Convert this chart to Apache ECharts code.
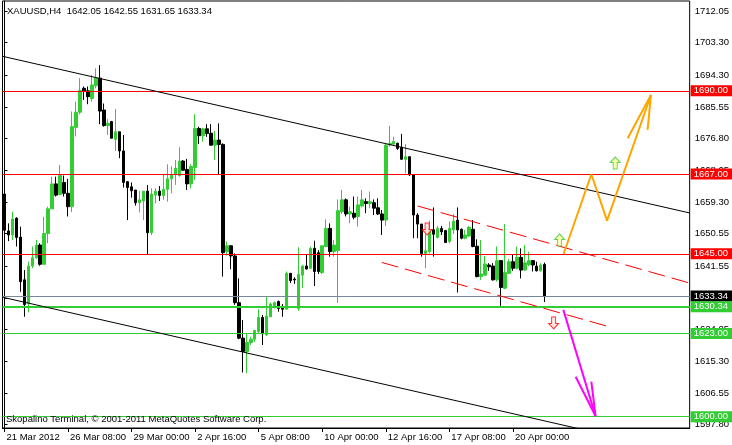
<!DOCTYPE html>
<html><head><meta charset="utf-8">
<script src="https://cdn.jsdelivr.net/npm/echarts@6/dist/echarts.min.js"></script>
<style>html,body{margin:0;padding:0;background:#fff}#c{width:732px;height:445px}</style>
</head><body><div id="c"></div>
<script>
// ---- candle data (bar index 0..136, H4) ----
const opens  = [1661.5,1651.3,1650.2,1654.8,1649.6,1637.8,1631.3,1641.6,1643.9,1647.4,
1642.1,1650.6,1657.4,1664.3,1661.4,1664.7,1661.7,1658.0,1679.9,1684.1,
1690.7,1690.0,1687.9,1691.4,1693.5,1684.7,1680.4,1681.5,1676.6,1678.7,
1673.4,1664.9,1663.5,1662.6,1659.1,1659.6,1662.3,1650.8,1661.2,1662.3,
1661.1,1662.8,1665.7,1666.9,1666.6,1670.6,1668.3,1664.3,1668.8,1679.6,
1677.6,1679.5,1678.3,1675.0,1676.4,1675.2,1645.6,1647.2,1644.4,1631.5,
1621.7,1618.0,1620.5,1621.4,1623.5,1627.4,1622.6,1627.6,1630.6,1631.8,
1630.4,1629.7,1639.6,1638.0,1629.9,1639.1,1641.6,1641.0,1646.5,1645.3,
1639.8,1647.0,1652.0,1645.6,1645.9,1656.6,1659.9,1656.0,1656.2,1655.3,
1658.2,1659.4,1658.9,1659.1,1657.7,1656.0,1654.3,1675.1,1675.3,1675.5,
1674.4,1671.1,1671.8,1666.8,1655.7,1653.2,1645.1,1645.6,1651.6,1649.5,
1652.0,1651.4,1648.4,1651.6,1654.3,1651.75,1649.3,1649.9,1651.75,1647.1,
1638.7,1639.1,1641.9,1641.6,1637.8,1643.1,1635.5,1639.6,1642.8,1641.0,
1644.0,1640.5,1642.0,1643.1,1641.6,1640.3,1642.05];
const highs  = [1662.0,1653.4,1656.6,1655.1,1652.5,1640.5,1642.8,1647.0,1648.8,1647.9,
1655.2,1658.0,1666.3,1666.3,1669.5,1666.6,1665.7,1684.3,1687.0,1693.5,
1691.2,1691.2,1694.4,1696.2,1697.1,1686.5,1682.2,1681.7,1685.0,1678.7,
1677.8,1665.1,1664.7,1662.6,1662.3,1662.3,1664.0,1663.1,1663.1,1663.7,
1666.8,1669.7,1669.2,1670.9,1674.4,1670.9,1671.2,1669.7,1683.6,1680.1,
1679.8,1680.8,1680.8,1678.9,1681.0,1675.5,1648.4,1647.4,1645.1,1638.2,
1626.7,1623.0,1622.1,1624.0,1629.7,1628.1,1633.2,1631.5,1631.8,1632.1,
1631.1,1640.1,1639.6,1638.5,1646.8,1641.9,1644.7,1647.0,1648.6,1646.0,
1647.4,1654.5,1653.4,1648.8,1660.0,1662.6,1660.3,1658.0,1660.8,1660.8,
1662.6,1660.3,1662.2,1660.0,1660.3,1657.1,1675.5,1680.3,1677.3,1675.7,
1678.1,1675.3,1671.8,1666.8,1656.2,1653.2,1652.3,1654.1,1657.8,1652.7,
1652.7,1651.6,1653.9,1656.0,1657.8,1652.0,1651.6,1652.7,1654.3,1649.0,
1648.8,1644.4,1642.4,1642.4,1647.0,1643.3,1653.2,1643.5,1644.7,1647.0,
1646.5,1647.4,1645.6,1643.3,1642.8,1642.4,1642.55];
const lows   = [1648.3,1648.5,1648.8,1647.0,1634.5,1627.6,1628.8,1641.0,1643.6,1641.7,
1642.1,1647.9,1657.4,1660.8,1661.2,1660.8,1655.3,1656.5,1677.4,1683.5,
1687.5,1686.3,1687.0,1690.7,1680.8,1680.1,1677.8,1676.9,1673.4,1671.4,
1663.3,1654.3,1660.5,1658.3,1656.4,1654.3,1644.9,1650.2,1658.9,1659.6,
1659.9,1659.4,1661.7,1664.0,1666.3,1667.9,1662.6,1663.1,1665.4,1675.3,
1676.0,1677.3,1674.9,1670.9,1666.9,1638.7,1644.5,1640.7,1630.9,1621.4,
1612.2,1612.0,1619.8,1620.7,1623.0,1619.8,1622.3,1627.5,1629.9,1629.0,
1627.6,1629.5,1636.9,1636.7,1629.3,1635.5,1640.7,1640.7,1636.1,1639.4,
1639.4,1646.8,1644.2,1644.2,1631.5,1656.0,1655.3,1653.4,1654.5,1652.5,
1657.8,1656.2,1657.6,1655.7,1655.7,1650.2,1652.7,1674.6,1674.8,1673.7,
1670.9,1667.2,1666.5,1649.3,1649.3,1644.2,1641.0,1645.1,1644.2,1649.3,
1650.2,1648.1,1647.9,1650.5,1634.3,1649.0,1649.0,1649.7,1646.8,1638.5,
1637.8,1638.9,1640.3,1637.6,1637.3,1630.6,1635.2,1639.4,1640.3,1640.7,
1638.2,1640.3,1641.6,1640.1,1640.1,1640.1,1631.65];
const closes = [1651.5,1650.2,1654.6,1649.5,1637.3,1631.0,1641.6,1643.9,1647.4,1642.1,
1650.6,1657.4,1664.3,1661.2,1666.6,1661.7,1658.0,1680.1,1684.1,1690.1,
1690.0,1688.4,1691.6,1693.5,1684.4,1680.4,1681.0,1676.9,1678.7,1673.4,
1664.7,1663.3,1662.4,1659.1,1659.9,1662.3,1650.8,1661.5,1662.3,1661.1,
1662.8,1665.7,1666.9,1668.6,1670.6,1668.1,1664.3,1669.1,1679.6,1677.6,
1679.5,1678.2,1675.0,1676.4,1675.2,1645.3,1647.2,1644.4,1631.5,1621.7,
1618.0,1620.5,1621.4,1623.8,1627.4,1622.9,1627.8,1631.1,1631.5,1629.9,
1629.7,1639.6,1637.6,1637.8,1639.3,1641.6,1640.8,1646.5,1640.1,1640.1,
1647.2,1652.0,1645.6,1647.4,1656.9,1659.9,1656.0,1656.6,1655.1,1658.5,
1659.9,1658.9,1659.4,1657.6,1656.0,1654.3,1675.0,1675.5,1676.0,1674.1,
1671.1,1671.8,1666.8,1655.7,1653.2,1645.1,1645.8,1651.6,1650.4,1652.0,
1651.1,1648.1,1652.0,1654.0,1651.6,1649.3,1650.2,1652.3,1647.0,1638.7,
1639.4,1642.2,1641.4,1637.8,1643.1,1635.7,1639.8,1642.8,1641.0,1644.0,
1640.5,1642.5,1643.1,1641.9,1640.3,1641.9,1633.34];

// ---- axes ----
const slotCount = 173;               // chart width in bar slots (incl. empty space on the right)
const xTickBars = [0,16,32,48,64,80,96,112,128];
const xTickLabels = ['21 Mar 2012','26 Mar 08:00','29 Mar 00:00','2 Apr 16:00','5 Apr 08:00','10 Apr 00:00','12 Apr 16:00','17 Apr 08:00','20 Apr 00:00'];
const yTickLabels = ['1712.05','1703.30','1694.30','1685.55','1676.80','1668.05','1659.30','1650.55','1641.55','1632.80','1624.05','1615.30','1606.55','1597.80'];
const yMin = 1596.88, yMax = 1714.81;

// ---- horizontal levels ----
const levelPrices = [1690.00, 1667.00, 1645.00, 1633.34, 1630.34, 1623.00, 1600.00];
const levelColors = ['#FF0000','#FF0000','#FF0000','#778899','#32CD32','#32CD32','#32CD32'];
const levelWidths = [1,1,1,1,2,1,1];
const levelTagBg  = ['#FF0000','#FF0000','#FF0000','#000000','#32CD32','#32CD32','#32CD32'];

// ---- drawn objects (bar index, price) ----
const channelUpper = [[-0.5,1699.54],[172.5,1656.27]];
const channelLower = [[-0.5,1633.0],[172.5,1589.7]];
const dashUpper = [[104,1658.2],[172.5,1636.9]];
const dashLower = [[95,1642.6],[153,1624.6]];
const orangePath = [[140.75,1644.94],[147.75,1666.95],[151.7,1654.14],[162.75,1688.85]];
const orangeHead = [[156.9,1676.9],[162.75,1688.85],[161.9,1679.2]];
const magentaPath = [[140.7,1629.5],[148.8,1600.2]];
const magentaHead = [[143.8,1611.05],[148.8,1600.2],[147.75,1609.7]];
const upArrows = [[139.75,1648.8],[153.75,1670.07]];
const downArrows = [[138.25,1625.9],[106.4,1651.85]];

const FONT = 'Liberation Sans';
const candleData = opens.map((o,i)=>[o, closes[i], lows[i], highs[i]]);
const slots = Array.from({length: slotCount}, (_,i)=>String(i));
const tickIdx = new Set(xTickBars);

const chart = echarts.init(document.getElementById('c'), null, {renderer:'canvas'});

function lineSeries(data, color, width, type){
  return {type:'line', xAxisIndex:1, yAxisIndex:0, data:data, showSymbol:false, symbol:'none',
    lineStyle:{color:color, width:width, type:type||'solid'}, silent:true, animation:false, z:5, clip:true};
}

const arrowUpPath = 'path://M5,0 L10,5.5 L7,5.5 L7,12 L3,12 L3,5.5 L0,5.5 Z';

const option = {
  animation:false,
  backgroundColor:'#ffffff',
  grid:{left:2.5, right:37.5, top:1, bottom:17, show:true, borderColor:'#000', borderWidth:1, backgroundColor:'transparent'},
  xAxis:[{
    type:'category', data:slots, boundaryGap:true,
    axisLine:{show:true, lineStyle:{color:'#000'}},
    axisTick:{show:true, alignWithLabel:true, interval:(i)=>tickIdx.has(i), length:4, lineStyle:{color:'#000'}},
    axisLabel:{show:true, interval:(i)=>tickIdx.has(i), align:'left', margin:4, padding:[0,0,0,2],
      fontFamily:FONT, fontSize:9.5, color:'#000',
      formatter:(v,i)=>{ const k = xTickBars.indexOf(Number(v)); return k>=0 ? xTickLabels[k] : ''; }},
    splitLine:{show:false}
  },{
    type:'value', min:-0.5, max:slotCount-0.5, show:false
  }],
  yAxis:[{
    type:'value', position:'right', min:yMin, max:yMax, scale:true,
    axisLine:{show:true, lineStyle:{color:'#000'}},
    axisTick:{show:true, length:3, lineStyle:{color:'#000'}, customValues: yTickLabels.map(Number)},
    axisLabel:{show:true, margin:5, fontFamily:FONT, fontSize:9.5, color:'#000', customValues: yTickLabels.map(Number),
      formatter:(v)=>{ const s = yTickLabels.find(t=>Math.abs(Number(t)-v)<1e-6); return s || v.toFixed(2); }},
    splitLine:{show:false}
  }],
  graphic:[
    {type:'text', left:7, top:6, style:{text:'XAUUSD,H4  1642.05 1642.55 1631.65 1633.34', font:'9.5px "Liberation Sans"', fill:'#000'}, z:100},
    {type:'text', left:6, top:414, style:{text:'Skopalino Terminal, © 2001-2011 MetaQuotes Software Corp.', font:'9.5px "Liberation Sans"', fill:'#000'}, z:100}
  ],
  series:[
    {
      type:'line', xAxisIndex:1, yAxisIndex:0, data:[], silent:true, z:3,
      markLine:{
        silent:true, symbol:['none','none'], animation:false,
        data: levelPrices.map((p,i)=>({
          yAxis:p,
          lineStyle:{color:levelColors[i], width:levelWidths[i], type:'solid'},
          label:{show:true, position:'end', distance:1, formatter:p.toFixed(2),
            backgroundColor:levelTagBg[i], color:'#fff', padding:[1,4,0,3],
            fontFamily:FONT, fontSize:9.5, lineHeight:10}
        }))
      }
    },
    lineSeries(channelUpper,'#000',1),
    lineSeries(channelLower,'#000',1),
    lineSeries(dashUpper,'#FF0000',1,[17,7]),
    lineSeries(dashLower,'#FF0000',1,[17,7]),
    {
      type:'candlestick', xAxisIndex:0, yAxisIndex:0, data:candleData, barWidth:3, z:4,
      itemStyle:{color:'#32CD32', color0:'#000000', borderColor:'#32CD32', borderColor0:'#000000', borderWidth:1},
      animation:false, silent:true
    },
    lineSeries(orangePath,'#FFA500',2),
    lineSeries(orangeHead,'#FFA500',2),
    lineSeries(magentaPath,'#FF00FF',2),
    lineSeries(magentaHead,'#FF00FF',2),
    {type:'scatter', xAxisIndex:1, yAxisIndex:0, data:upArrows, symbol:arrowUpPath, symbolSize:[10,12],
      itemStyle:{color:'#FFFFA0', borderColor:'#32CD32', borderWidth:1}, silent:true, z:6, animation:false},
    {type:'scatter', xAxisIndex:1, yAxisIndex:0, data:downArrows, symbol:arrowUpPath, symbolSize:[10,12], symbolRotate:180,
      itemStyle:{color:'#FFE0E0', borderColor:'#FF0000', borderWidth:1}, silent:true, z:6, animation:false}
  ]
};
chart.setOption(option);
</script></body></html>
